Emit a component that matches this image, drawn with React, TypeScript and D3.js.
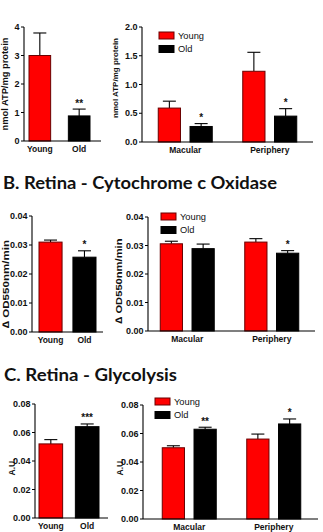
import React, { useEffect } from "react";
import * as d3 from "d3";

// shared categories
const ages = ["Young", "Old"];
const regions = ["Macular", "Periphery"];
const ageFill = ["#ff0000", "#000000"];
const ageStroke = ["#6a0000", "#000000"];

// A. ATP content (nmol ATP/mg protein)
const atpTotalMean = [3.0, 0.88];
const atpTotalSem = [0.79, 0.24];
const atpTotalSig = ["", "**"];
const atpYoungMean = [0.59, 1.23];
const atpYoungSem = [0.12, 0.33];
const atpOldMean = [0.27, 0.45];
const atpOldSem = [0.05, 0.13];
const atpOldSig = ["*", "*"];
const atpTotalTicks = [0, 1, 2, 3, 4];
const atpRegionTicks = [0, 0.5, 1.0, 1.5, 2.0];

// B. Cytochrome c oxidase (delta OD550nm/min)
const coxTotalMean = [0.031, 0.0258];
const coxTotalSem = [0.0007, 0.0022];
const coxTotalSig = ["", "*"];
const coxYoungMean = [0.0306, 0.0312];
const coxYoungSem = [0.0009, 0.0012];
const coxOldMean = [0.0289, 0.0273];
const coxOldSem = [0.0016, 0.0009];
const coxOldSig = ["", "*"];
const coxTicks = [0, 0.01, 0.02, 0.03, 0.04];

// C. Glycolysis (A.U.)
const glyTotalMean = [0.052, 0.0641];
const glyTotalSem = [0.003, 0.0019];
const glyTotalSig = ["", "***"];
const glyYoungMean = [0.05, 0.0561];
const glyYoungSem = [0.0014, 0.0035];
const glyOldMean = [0.063, 0.0667];
const glyOldSem = [0.0014, 0.0035];
const glyOldSig = ["**", "*"];
const glyTicks = [0, 0.02, 0.04, 0.06, 0.08];

const AXIS_FONT = "Arial, 'Liberation Sans', Helvetica, sans-serif";

type Axis = {
  axisX: number;
  axisEnd: number;
  y0: number;
  y1: number;
  ticks: number[];
  fmt: string;
  yLabel: string;
  yLabelX: number;
  yLabelY: number;
  yLabelSize: number;
  yLabelLen: number;
};

function YAxis({ a, y }: { a: Axis; y: d3.ScaleLinear<number, number> }) {
  const f = d3.format(a.fmt);
  return (
    <g>
      <line x1={a.axisX} x2={a.axisX} y1={y(a.ticks[a.ticks.length - 1])} y2={a.y0} stroke="#000" strokeWidth={1.1} />
      <line x1={a.axisX} x2={a.axisEnd} y1={a.y0} y2={a.y0} stroke="#000" strokeWidth={1.1} />
      {a.ticks.map((t) => (
        <g key={t}>
          <line x1={a.axisX - 3} x2={a.axisX} y1={y(t)} y2={y(t)} stroke="#000" strokeWidth={1} />
          <text x={a.axisX - 4.5} y={y(t)} dy="0.35em" textAnchor="end" fontSize={9} fontWeight="bold" fontFamily={AXIS_FONT} fill="#111">
            {f(t)}
          </text>
        </g>
      ))}
      <g transform={`translate(${a.yLabelX},${a.yLabelY})`}>
        <text
          transform="rotate(-90)"
          x={-a.yLabelLen / 2}
          y={0}
          dy="0.35em"
          textLength={a.yLabelLen}
          lengthAdjust="spacingAndGlyphs"
          fontSize={a.yLabelSize}
          fontWeight="bold"
          fontFamily={AXIS_FONT}
          fill="#111"
        >
          {a.yLabel}
        </text>
      </g>
    </g>
  );
}

function Bar({ x, w, mean, sem, sig, k, y, y0 }: any) {
  const top = y(mean);
  const errTop = y(mean + sem);
  const cx = x + w / 2;
  return (
    <g>
      <line x1={cx} x2={cx} y1={top} y2={errTop} stroke="#000" strokeWidth={1.1} />
      <line x1={cx - 6.5} x2={cx + 6.5} y1={errTop} y2={errTop} stroke="#000" strokeWidth={1.1} />
      <rect x={x} y={top} width={w} height={y0 - top} fill={ageFill[k]} stroke={ageStroke[k]} strokeWidth={1} />
      {sig && (
        <text x={cx} y={errTop - 2.5} textAnchor="middle" fontSize={10} fontWeight="bold" fontFamily={AXIS_FONT} fill="#111">
          {sig}
        </text>
      )}
    </g>
  );
}

function TotalPanel(props: Axis & { mean: number[]; sem: number[]; sig: string[]; band: [number, number]; pad: number }) {
  const y = d3.scaleLinear().domain([0, props.ticks[props.ticks.length - 1]]).range([props.y0, props.y1]);
  const x = d3.scaleBand().domain(ages).range(props.band).paddingInner(props.pad);
  return (
    <g>
      {ages.map((g, i) => (
        <Bar key={g} x={x(g)} w={x.bandwidth()} mean={props.mean[i]} sem={props.sem[i]} sig={props.sig[i]} k={i} y={y} y0={props.y0} />
      ))}
      <YAxis a={props} y={y} />
      {ages.map((g) => (
        <text key={g} x={x(g)! + x.bandwidth() / 2} y={props.y0 + 11} textAnchor="middle" fontSize={8.5} fontWeight="bold" fontFamily={AXIS_FONT} fill="#111">
          {g}
        </text>
      ))}
    </g>
  );
}

function RegionPanel(
  props: Axis & {
    young: number[];
    youngSem: number[];
    old: number[];
    oldSem: number[];
    oldSig: string[];
    groups: [number, number];
    legendX: number;
    legendY: number;
  }
) {
  const y = d3.scaleLinear().domain([0, props.ticks[props.ticks.length - 1]]).range([props.y0, props.y1]);
  const gx = d3.scalePoint().domain(regions).range(props.groups).padding(0.5);
  const sub = d3.scaleBand().domain(ages).range([-27, 27]).paddingInner(0.3);
  const means = [props.young, props.old];
  const sems = [props.youngSem, props.oldSem];
  const sigs = [["", ""], props.oldSig];
  return (
    <g>
      {regions.map((r, ri) =>
        ages.map((g, i) => (
          <Bar
            key={r + g}
            x={gx(r)! + sub(g)!}
            w={sub.bandwidth()}
            mean={means[i][ri]}
            sem={sems[i][ri]}
            sig={sigs[i][ri]}
            k={i}
            y={y}
            y0={props.y0}
          />
        ))
      )}
      <YAxis a={props} y={y} />
      {regions.map((r) => (
        <text key={r} x={gx(r)} y={props.y0 + 11} textAnchor="middle" fontSize={8.5} fontWeight="bold" fontFamily={AXIS_FONT} fill="#111">
          {r}
        </text>
      ))}
      {ages.map((g, i) => (
        <g key={g} transform={`translate(${props.legendX},${props.legendY + i * 13.5})`}>
          <rect x={0} y={0} width={15} height={7} fill={ageFill[i]} stroke={ageStroke[i]} strokeWidth={1} />
          <text x={19} y={3.5} dy="0.35em" fontSize={9.3} fontFamily={AXIS_FONT} fill="#111">
            {g}
          </text>
        </g>
      ))}
    </g>
  );
}

export default function App() {
  useEffect(() => {
    document.body.style.margin = "0";
  }, []);

  const titleFont = "Lato, 'Open Sans', sans-serif";

  return (
    <svg width={323} height={532} style={{ display: "block", background: "#fff" }}>
      {/* A: ATP */}
      <TotalPanel
        mean={atpTotalMean} sem={atpTotalSem} sig={atpTotalSig}
        band={[29, 90]} pad={0.45}
        axisX={24} axisEnd={101} y0={141} y1={27}
        ticks={atpTotalTicks} fmt="d"
        yLabel="nmol ATP/mg protein" yLabelX={5} yLabelY={84} yLabelSize={9} yLabelLen={93}
      />
      <RegionPanel
        young={atpYoungMean} youngSem={atpYoungSem} old={atpOldMean} oldSem={atpOldSem} oldSig={atpOldSig}
        groups={[143, 312]} legendX={159} legendY={32}
        axisX={142} axisEnd={313} y0={142} y1={27}
        ticks={atpRegionTicks} fmt=".1f"
        yLabel="nmol ATP/mg protein" yLabelX={115} yLabelY={78} yLabelSize={8} yLabelLen={80}
      />

      {/* B: cytochrome c oxidase */}
      <text x={3} y={189} fontFamily={titleFont} fontWeight="bold" fontSize={16.5} textLength={274} lengthAdjust="spacingAndGlyphs" fill="#111">
        B. Retina - Cytochrome c Oxidase
      </text>
      <TotalPanel
        mean={coxTotalMean} sem={coxTotalSem} sig={coxTotalSig}
        band={[39, 96]} pad={0.32}
        axisX={32} axisEnd={103} y0={332} y1={216}
        ticks={coxTicks} fmt=".2f"
        yLabel="∆ OD550nm/min" yLabelX={6} yLabelY={284} yLabelSize={9.5} yLabelLen={88}
      />
      <RegionPanel
        young={coxYoungMean} youngSem={coxYoungSem} old={coxOldMean} oldSem={coxOldSem} oldSig={coxOldSig}
        groups={[145, 314]} legendX={161} legendY={213}
        axisX={148} axisEnd={315} y0={331} y1={217}
        ticks={coxTicks} fmt=".2f"
        yLabel="∆ OD550nm/min" yLabelX={119} yLabelY={281} yLabelSize={9.5} yLabelLen={85}
      />

      {/* C: glycolysis */}
      <text x={4} y={381} fontFamily={titleFont} fontWeight="bold" fontSize={16.5} textLength={173} lengthAdjust="spacingAndGlyphs" fill="#111">
        C. Retina - Glycolysis
      </text>
      <TotalPanel
        mean={glyTotalMean} sem={glyTotalSem} sig={glyTotalSig}
        band={[39, 99]} pad={0.35}
        axisX={35} axisEnd={108} y0={518} y1={404}
        ticks={glyTicks} fmt=".2f"
        yLabel="A.U." yLabelX={12} yLabelY={467} yLabelSize={9} yLabelLen={17}
      />
      <RegionPanel
        young={glyYoungMean} youngSem={glyYoungSem} old={glyOldMean} oldSem={glyOldSem} oldSig={glyOldSig}
        groups={[147, 316]} legendX={155} legendY={398}
        axisX={143} axisEnd={318} y0={519} y1={405}
        ticks={glyTicks} fmt=".2f"
        yLabel="A.U." yLabelX={120} yLabelY={467} yLabelSize={9} yLabelLen={17}
      />
    </svg>
  );
}
